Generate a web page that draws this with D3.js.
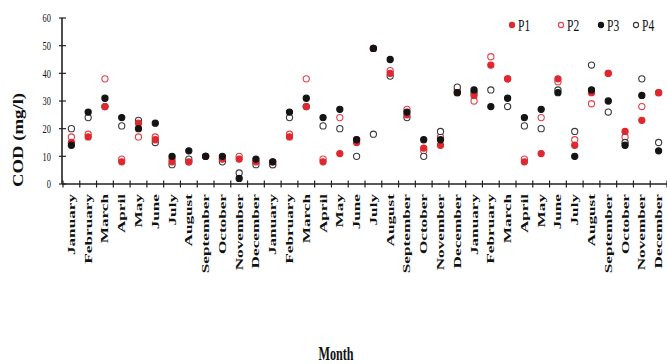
<!DOCTYPE html>
<html>
<head>
<meta charset="utf-8">
<script src="https://cdnjs.cloudflare.com/ajax/libs/d3/7.8.5/d3.min.js"></script>
<style>
  html, body { margin: 0; padding: 0; background: #fff; }
  svg { display: block; }
  text { font-family: "Liberation Serif", "Times New Roman", serif; fill: #111; }
</style>
</head>
<body>
<svg id="chart" width="667" height="364"></svg>
<script>
// Month labels along the x axis (three consecutive years)
const monthNames = ["January","February","March","April","May","June",
  "July","August","September","October","November","December"];
const months = [...monthNames, ...monthNames, ...monthNames];

// COD (mg/l) per sampling point, one value per month
const P1 = [15,17,28,8,22,16, 8,8,10,9,9,8, 8,17,28,8,11,15, 49,40,25,13,14,33, 32,43,38,8,11,38, 14,33,40,19,23,33];
const P2 = [17,18,38,9,17,17, 9,8,10,9,10,8, 7,18,38,9,24,16, 49,41,27,12,17,34, 30,46,38,9,24,37, 16,29,40,17,28,33];
const P3 = [14,26,31,24,20,22, 10,12,10,10,2,9, 8,26,31,24,27,16, 49,45,26,16,16,33, 34,28,31,24,27,33, 10,34,30,14,32,12];
const P4 = [20,24,28,21,23,15, 7,9,10,8,4,7, 7,24,28,21,20,10, 18,39,24,10,19,35, 33,34,28,21,20,34, 19,43,26,15,38,15];

const yTicks = [0,10,20,30,40,50,60];

const seriesDefs = [
  { name: "P1", values: P1, fill: "#de2830", stroke: "#de2830" },
  { name: "P2", values: P2, fill: "#ffffff", stroke: "#e2404c" },
  { name: "P3", values: P3, fill: "#141414", stroke: "#141414" },
  { name: "P4", values: P4, fill: "#ffffff", stroke: "#3a3a3a" }
];
// open markers first, filled markers on top
const drawOrder = ["P2", "P4", "P1", "P3"];

const svg = d3.select("#chart");

const x = d3.scaleBand().domain(d3.range(months.length)).range([63, 667]).padding(0);
const y = d3.scaleLinear().domain([0, 60]).range([184, 18]);

const axisColor = "#222";

// Y axis: line, crossing ticks, labels
const gy = svg.append("g");
gy.append("line").attr("x1", 62).attr("x2", 62).attr("y1", y(60)).attr("y2", y(0))
  .attr("stroke", axisColor).attr("stroke-width", 1.6);
gy.selectAll("line.t").data(yTicks).join("line").attr("class", "t")
  .attr("x1", 59).attr("x2", 66).attr("y1", d => y(d)).attr("y2", d => y(d))
  .attr("stroke", axisColor).attr("stroke-width", 1.2);
gy.selectAll("text").data(yTicks).join("text")
  .attr("transform", d => `translate(51,${y(d)}) scale(0.7,1)`)
  .attr("text-anchor", "end").attr("dy", "0.35em")
  .style("font-size", "12px").text(d => d);

// X axis: line, ticks at band edges, rotated month labels
const gx = svg.append("g");
gx.append("line").attr("x1", 62).attr("x2", 667).attr("y1", y(0)).attr("y2", y(0))
  .attr("stroke", axisColor).attr("stroke-width", 1.6);
const edges = d3.range(months.length + 1).map(i => i < months.length ? x(i) : x(months.length - 1) + x.bandwidth());
gx.selectAll("line.t").data(edges).join("line").attr("class", "t")
  .attr("x1", d => d).attr("x2", d => d).attr("y1", y(0) - 3.5).attr("y2", y(0) + 3.5)
  .attr("stroke", axisColor).attr("stroke-width", 1.2);
gx.selectAll("text").data(months).join("text")
  .attr("transform", (d, i) => `translate(${x(i) + x.bandwidth() / 2},194) rotate(-90) scale(1.72,1)`)
  .attr("text-anchor", "end").attr("dy", "0.35em")
  .style("font-size", "10px").style("font-weight", "bold").text(d => d);

// Axis titles
svg.append("text")
  .attr("transform", "translate(18,140) rotate(-90) scale(1.25,1)")
  .attr("text-anchor", "middle").attr("dy", "0.35em")
  .style("font-size", "15px").style("font-weight", "bold").text("COD (mg/l)");
svg.append("text")
  .attr("transform", "translate(336,360) scale(0.64,1)")
  .attr("text-anchor", "middle")
  .style("font-size", "19px").style("font-weight", "bold").text("Month");

// Data points
drawOrder.map(n => seriesDefs.find(s => s.name === n)).forEach(s => {
  svg.append("g").selectAll("circle").data(s.values).join("circle")
    .attr("cx", (d, i) => x(i) + x.bandwidth() / 2)
    .attr("cy", d => y(d))
    .attr("r", 3.1)
    .attr("fill", s.fill)
    .attr("stroke", s.stroke)
    .attr("stroke-width", 1.1);
});

// Legend
const legendX = [512, 561, 601, 636];
const lg = svg.append("g");
seriesDefs.forEach((s, i) => {
  const g = lg.append("g").attr("transform", `translate(${legendX[i]},25)`);
  g.append("circle").attr("r", 2.6).attr("fill", s.fill).attr("stroke", s.stroke).attr("stroke-width", 1.1);
  g.append("text").attr("transform", "translate(6,0) scale(0.72,1)").attr("dy", "0.35em")
    .style("font-size", "16px").text(s.name);
});
</script>
</body>
</html>
